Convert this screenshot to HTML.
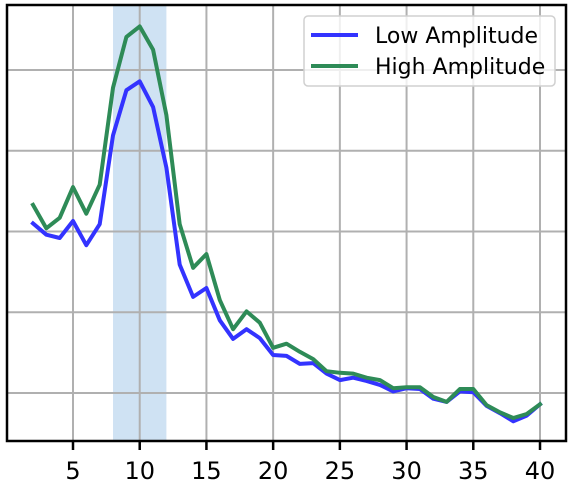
<!DOCTYPE html>
<html><head><meta charset="utf-8"><style>
body{margin:0;background:#fff;}
svg{display:block;font-family:"DejaVu Sans","Liberation Sans",sans-serif;}
</style></head><body>
<svg id="chart" width="572" height="488" viewBox="0 0 572 488" xmlns="http://www.w3.org/2000/svg">
<g id="band"></g><g id="grid"></g><g id="lines"></g><g id="axes"></g><g id="legend"></g>
</svg>
<script>
const xs=[2,3,4,5,6,7,8,9,10,11,12,13,14,15,16,17,18,19,20,21,22,23,24,25,26,27,28,29,30,31,32,33,34,35,36,37,38,39,40];
const lowAmp=[3.10,2.96,2.92,3.13,2.83,3.09,4.19,4.75,4.86,4.54,3.79,2.59,2.19,2.30,1.90,1.67,1.79,1.68,1.47,1.46,1.36,1.37,1.24,1.16,1.19,1.15,1.10,1.02,1.06,1.05,0.93,0.89,1.02,1.01,0.84,0.75,0.65,0.72,0.86];
const highAmp=[3.33,3.04,3.17,3.55,3.22,3.58,4.78,5.41,5.54,5.25,4.44,3.09,2.55,2.72,2.15,1.79,2.01,1.87,1.56,1.61,1.51,1.42,1.27,1.25,1.24,1.19,1.16,1.06,1.07,1.07,0.95,0.89,1.05,1.05,0.85,0.76,0.69,0.74,0.86];
const xTicks=[5,10,15,20,25,30,35,40];
const yGrid=[1,2,3,4,5];
const band=[8,12];
const NS='http://www.w3.org/2000/svg';
const L=7,R=566,T=5,B=441;
const X=v=>73+(v-5)*13.343;
const Y=v=>473.75-v*80.75;
function mk(tag,attrs,parent){const e=document.createElementNS(NS,tag);for(const k in attrs)e.setAttribute(k,attrs[k]);document.getElementById(parent).appendChild(e);return e;}
let r=mk('rect',{x:X(band[0]),y:T,width:X(band[1])-X(band[0]),height:B-T,fill:'#cfe2f3'},'band');


xTicks.forEach(t=>{let l=mk('line',{x1:X(t),x2:X(t),y1:T,y2:B,stroke:'#b0b0b0','stroke-width':2},'grid');

});
yGrid.forEach(t=>{let l=mk('line',{x1:L,x2:R,y1:Y(t),y2:Y(t),stroke:'#b0b0b0','stroke-width':2},'grid');

});
function series(vals,color,name){const d=vals.map((v,i)=>(i?'L':'M')+X(xs[i]).toFixed(1)+','+Y(v).toFixed(1)).join('');
let p=mk('path',{d:d,fill:'none',stroke:color,'stroke-width':4,'stroke-linejoin':'round','stroke-linecap':'square'},'lines');

}
series(lowAmp,'#3333ff','low-amplitude-line');
series(highAmp,'#2e8b57','high-amplitude-line');
let f=mk('rect',{x:L,y:T,width:R-L,height:B-T,fill:'none',stroke:'#000','stroke-width':2.5},'axes');


xTicks.forEach(t=>{let l=mk('line',{x1:X(t),x2:X(t),y1:B,y2:B+9,stroke:'#000','stroke-width':2.5},'axes');


let tx=mk('text',{x:X(t),y:479,'text-anchor':'middle','font-size':24,fill:'#000'},'axes');tx.textContent=t;

});
let lb=mk('rect',{x:304,y:16,width:251,height:70,rx:4,fill:'#fff','fill-opacity':0.8,stroke:'#d0d0d0','stroke-width':1.5},'legend');


[['Low Amplitude','#3333ff',35],['High Amplitude','#2e8b57',66]].forEach(([txt,c,y])=>{
let l=mk('line',{x1:311,x2:358,y1:y,y2:y,stroke:c,'stroke-width':4},'legend');


let t=mk('text',{x:375,y:y+8,'font-size':22,fill:'#000'},'legend');t.textContent=txt;

});
</script>
</body></html>
